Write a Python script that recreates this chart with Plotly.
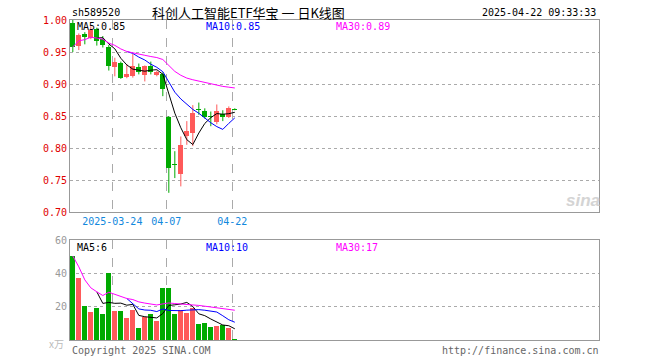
import plotly.graph_objects as go
import pandas as pd

dates = ["03-13", "03-14", "03-17", "03-18", "03-19", "03-20", "03-21", "03-24", "03-25", "03-26",
         "03-27", "03-28", "03-31", "04-01", "04-02", "04-03", "04-07", "04-08", "04-09", "04-10",
         "04-11", "04-14", "04-15", "04-16", "04-17", "04-18", "04-21", "04-22"]
opens = [0.995, 0.959, 0.978, 0.972, 0.986, 0.970, 0.958, 0.926, 0.933, 0.911,
         0.913, 0.926, 0.914, 0.928, 0.914, 0.915, 0.849, 0.775, 0.760, 0.818,
         0.824, 0.860, 0.858, 0.850, 0.840, 0.853, 0.849, 0.861]
highs = [1.000, 0.979, 0.981, 0.990, 0.988, 0.975, 0.961, 0.941, 0.935, 0.931,
         0.947, 0.932, 0.929, 0.935, 0.921, 0.918, 0.850, 0.795, 0.818, 0.842,
         0.867, 0.871, 0.862, 0.857, 0.868, 0.859, 0.865, 0.862]
lows = [0.950, 0.953, 0.962, 0.970, 0.960, 0.957, 0.921, 0.912, 0.908, 0.909,
        0.910, 0.915, 0.904, 0.915, 0.912, 0.881, 0.730, 0.753, 0.740, 0.805,
        0.803, 0.852, 0.846, 0.834, 0.837, 0.842, 0.847, 0.859]
closes = [0.958, 0.977, 0.973, 0.984, 0.967, 0.961, 0.928, 0.935, 0.910, 0.915,
          0.928, 0.919, 0.928, 0.918, 0.919, 0.892, 0.769, 0.774, 0.804, 0.826,
          0.854, 0.859, 0.849, 0.849, 0.858, 0.849, 0.863, 0.860]
volumes = [50.4, 37.4, 20.4, 17.0, 19.4, 15.6, 40.4, 17.6, 17.6, 13.2,
           18.0, 7.4, 13.6, 15.6, 11.6, 31.4, 31.4, 15.6, 18.0, 16.4,
           19.0, 9.6, 10.0, 8.0, 8.4, 9.0, 7.4, 0.8]
date_ticks = ["2025-03-24", "04-07", "04-22"]
date_tick_idx = [7, 16, 27]
price_ticks = [0.70, 0.75, 0.80, 0.85, 0.90, 0.95, 1.00]
vol_ticks = [20, 40, 60]
price_ma_labels = ["MA5:0.85", "MA10:0.85", "MA30:0.89"]
vol_ma_labels = ["MA5:6", "MA10:10", "MA30:17"]

RED = "#ff5a5a"
GREEN = "#00aa00"
MONO = "DejaVu Sans Mono"

n = len(closes)
idx = list(range(n))
up = [c >= o for o, c in zip(opens, closes)]
cols = [RED if u else GREEN for u in up]

cs = pd.Series(closes)
vs = pd.Series(volumes)
ma5 = cs.rolling(5).mean()
ma10 = cs.rolling(10).mean()
ma30 = cs.rolling(30, min_periods=1).mean()
vma5 = vs.rolling(5).mean()
vma10 = vs.rolling(10).mean()
vma30 = vs.rolling(30, min_periods=1).mean()

fig = go.Figure()

# wicks
for color, flag in ((RED, True), (GREEN, False)):
    wx, wy = [], []
    for i in idx:
        if up[i] == flag:
            wx += [i, i, None]
            wy += [lows[i], highs[i], None]
    fig.add_trace(go.Scatter(x=wx, y=wy, mode="lines", line=dict(color=color, width=1),
                             xaxis="x", yaxis="y", hoverinfo="skip", showlegend=False))

# bodies
base = [min(o, c) for o, c in zip(opens, closes)]
height = [max(abs(c - o), 0.0016) for o, c in zip(opens, closes)]
fig.add_trace(go.Bar(x=idx, y=height, base=base, width=0.8, marker=dict(color=cols, line=dict(width=0)),
                     xaxis="x", yaxis="y", hoverinfo="skip", showlegend=False))

for s, c in ((ma5, "#000000"), (ma10, "#0000ff"), (ma30, "#ff00ff")):
    fig.add_trace(go.Scatter(x=idx, y=s, mode="lines", line=dict(color=c, width=1),
                             xaxis="x", yaxis="y", hoverinfo="skip", showlegend=False))

# volume
fig.add_trace(go.Bar(x=idx, y=volumes, width=0.8, marker=dict(color=cols, line=dict(width=0)),
                     xaxis="x2", yaxis="y2", hoverinfo="skip", showlegend=False))
for s, c in ((vma5, "#000000"), (vma10, "#0000ff"), (vma30, "#ff00ff")):
    fig.add_trace(go.Scatter(x=idx, y=s, mode="lines", line=dict(color=c, width=1),
                             xaxis="x2", yaxis="y2", hoverinfo="skip", showlegend=False))

L, R, T, B = 70, 61, 20, 20
W, H = 660, 360
PW, PH = W - L - R, H - T - B


def px(x):
    return (x - L) / PW


def py(y):
    return (H - B - y) / PH


tick_pos = [i - 0.42 for i in date_tick_idx]
xr = [-0.47, 87.7]
grid = "#aaaaaa"
frame = "#999999"

fig.update_layout(
    width=W, height=H, margin=dict(l=L, r=R, t=T, b=B),
    paper_bgcolor="white", plot_bgcolor="white", barmode="overlay", bargap=0,
    hovermode=False, showlegend=False,
    xaxis=dict(domain=[0, 1], range=xr, anchor="y", tickvals=tick_pos, ticktext=date_ticks,
               showgrid=True, griddash="dash", gridcolor=grid, gridwidth=1, zeroline=False,
               showline=True, mirror=True, linecolor=frame, linewidth=1, ticks="",
               tickfont=dict(family=MONO, size=10, color="#1188dd")),
    yaxis=dict(domain=[py(212), 1], range=[0.70, 1.00], anchor="x", tickvals=price_ticks,
               ticktext=["%.2f" % v for v in price_ticks],
               showgrid=True, griddash="dot", gridcolor=grid, gridwidth=1, zeroline=False,
               showline=True, mirror=True, linecolor=frame, linewidth=1, ticks="",
               tickfont=dict(family=MONO, size=10, color="#e00000")),
    xaxis2=dict(domain=[0, 1], range=xr, anchor="y2", tickvals=tick_pos, showticklabels=False,
                showgrid=True, griddash="dash", gridcolor=grid, gridwidth=1, zeroline=False,
                showline=True, mirror=True, linecolor=frame, linewidth=1, ticks=""),
    yaxis2=dict(domain=[0, py(240)], range=[0, 60], anchor="x2", tickvals=vol_ticks,
                showgrid=True, griddash="dot", gridcolor=grid, gridwidth=1, zeroline=False,
                showline=True, mirror=True, linecolor=frame, linewidth=1, ticks="",
                tickfont=dict(family=MONO, size=10, color="#999999")),
)


def ann(text, x, y, color="#000000", size=10, family=MONO, xanchor="left", **kw):
    fig.add_annotation(text=text, x=px(x), y=py(y), xref="paper", yref="paper",
                       xanchor=xanchor, yanchor="middle", showarrow=False,
                       font=dict(family=family, size=size, color=color, **kw))


ann("sh589520", 70, 13)
ann("科创人工智能ETF华宝 一 日K线图", 150, 12, size=13, family="Noto Sans CJK SC")
ann("2025-04-22 09:33:33", 598, 13, xanchor="right")
ann(price_ma_labels[0], 75, 26.5)
ann(price_ma_labels[1], 204, 26.5, color="#0000ff")
ann(price_ma_labels[2], 334, 26.5, color="#ff00ff")
ann(vol_ma_labels[0], 75, 247)
ann(vol_ma_labels[1], 204, 247, color="#0000ff")
ann(vol_ma_labels[2], 334, 247, color="#ff00ff")
ann("Copyright 2025 SINA.COM", 70, 350, color="#666666")
ann("http://finance.sina.com.cn", 601, 350, color="#666666", xanchor="right")
ann("x万", 66, 343, color="#bbbbbb", xanchor="right", family="Noto Sans CJK SC")
ann("sina", 583, 200, color="#d4d4d4", size=17, family="Liberation Sans", xanchor="center",
    weight="bold", style="italic")

fig.write_html("out.html", config={"displayModeBar": False, "staticPlot": True},
               post_script="document.body.style.margin='0';document.body.style.overflow='hidden';")
